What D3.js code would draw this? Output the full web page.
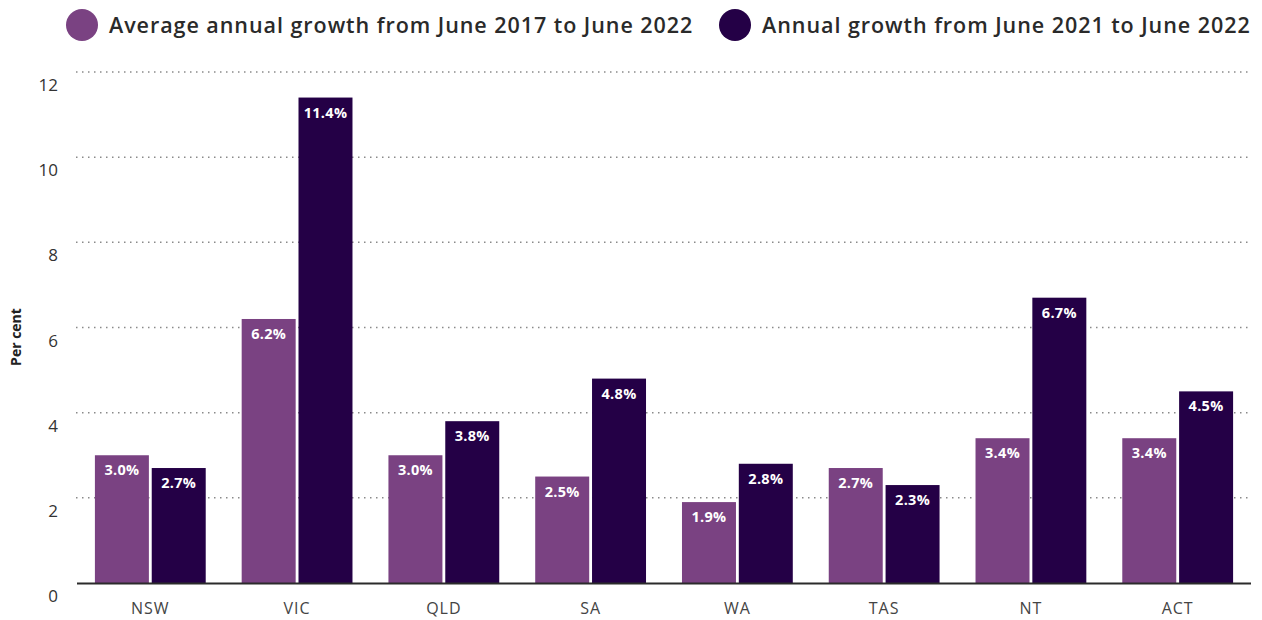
<!DOCTYPE html>
<html lang="en">
<head>
    <meta charset="UTF-8">
    <title>Growth by state</title>
    <style>
        body {
            margin: 0;
            padding: 0;
            background-color: white;
            font-family: "Open Sans", Lato, sans-serif;
        }

        .grid line {
            stroke: #8a8a8a;
            stroke-width: 1.5px;
            stroke-dasharray: 1.5 4.5;
        }

        .bar-label {
            fill: white;
            font-weight: 700;
            font-size: 14.5px;
            letter-spacing: 0.3px;
        }
    </style>
</head>
<body>
    <div id="container"></div>

    <script src="https://d3js.org/d3.v7.min.js"></script>
    <script>
        // Data
        const states = ["NSW", "VIC", "QLD", "SA", "WA", "TAS", "NT", "ACT"];
        const avgGrowth = [3.0, 6.2, 3.0, 2.5, 1.9, 2.7, 3.4, 3.4];
        const annualGrowth = [2.7, 11.4, 3.8, 4.8, 2.8, 2.3, 6.7, 4.5];
        const seriesNames = [
            "Average annual growth from June 2017 to June 2022",
            "Annual growth from June 2021 to June 2022"
        ];
        const yTicks = [0, 2, 4, 6, 8, 10, 12];
        const colors = ["#7a4282", "#240046"];

        const width = 1262;
        const height = 620;

        const svg = d3.select("#container")
            .append("svg")
            .attr("width", width)
            .attr("height", height);

        // Scales
        const x = d3.scaleBand()
            .domain(states)
            .range([77, 1251])
            .paddingInner(0.245)
            .paddingOuter(0.122);

        const xSub = d3.scaleBand()
            .domain([0, 1])
            .range([0, x.bandwidth()])
            .paddingInner(0.05);

        const y = d3.scaleLinear()
            .domain([0, 12])
            .range([583, 72]);

        // Gridlines
        svg.append("g")
            .attr("class", "grid")
            .selectAll("line")
            .data(yTicks.filter(d => d > 0))
            .enter()
            .append("line")
            .attr("x1", 76)
            .attr("x2", 1252)
            .attr("y1", d => y(d))
            .attr("y2", d => y(d));

        // Y tick labels (sit below their gridline)
        svg.append("g")
            .selectAll("text")
            .data(yTicks)
            .enter()
            .append("text")
            .attr("x", 58)
            .attr("y", d => y(d) + 19)
            .attr("text-anchor", "end")
            .style("font-size", "17px")
            .style("fill", "#333")
            .text(d => d);

        // Y axis title
        svg.append("text")
            .attr("transform", "translate(21,337) rotate(-90)")
            .attr("text-anchor", "middle")
            .style("font-size", "14px")
            .style("font-weight", "700")
            .style("fill", "#222")
            .text("Per cent");

        // Bars
        const seriesData = [avgGrowth, annualGrowth];
        const groups = svg.append("g")
            .selectAll("g")
            .data(states)
            .enter()
            .append("g")
            .attr("transform", d => `translate(${x(d)},0)`);

        groups.selectAll("rect")
            .data((d, i) => seriesData.map((s, k) => ({k: k, v: s[i]})))
            .enter()
            .append("rect")
            .attr("x", d => xSub(d.k))
            .attr("width", xSub.bandwidth())
            .attr("y", d => y(d.v))
            .attr("height", d => y(0) - y(d.v))
            .attr("fill", d => colors[d.k]);

        groups.selectAll("text")
            .data((d, i) => seriesData.map((s, k) => ({k: k, v: s[i]})))
            .enter()
            .append("text")
            .attr("class", "bar-label")
            .attr("x", d => xSub(d.k) + xSub.bandwidth() / 2)
            .attr("y", d => y(d.v) + 20)
            .attr("text-anchor", "middle")
            .text(d => d.v.toFixed(1) + "%");

        // Baseline
        svg.append("line")
            .attr("x1", 77)
            .attr("x2", 1251)
            .attr("y1", y(0) + 0.5)
            .attr("y2", y(0) + 0.5)
            .attr("stroke", "#2b2b2b")
            .attr("stroke-width", 2);

        // X labels
        svg.append("g")
            .selectAll("text")
            .data(states)
            .enter()
            .append("text")
            .attr("x", d => x(d) + x.bandwidth() / 2)
            .attr("y", 614)
            .attr("text-anchor", "middle")
            .style("font-size", "16px")
            .style("letter-spacing", "1px")
            .style("fill", "#444")
            .text(d => d);

        // Legend
        const legendX = [82, 735];
        const legend = svg.append("g")
            .selectAll("g")
            .data(seriesNames)
            .enter()
            .append("g")
            .attr("transform", (d, i) => `translate(${legendX[i]},25)`);

        legend.append("circle")
            .attr("r", 16)
            .attr("fill", (d, i) => colors[i]);

        legend.append("text")
            .attr("x", 27)
            .attr("y", 8)
            .style("font-size", "21.5px")
            .style("font-weight", "600")
            .style("letter-spacing", "0.95px")
            .style("fill", "#2a2a2a")
            .text(d => d);
    </script>
</body>
</html>
